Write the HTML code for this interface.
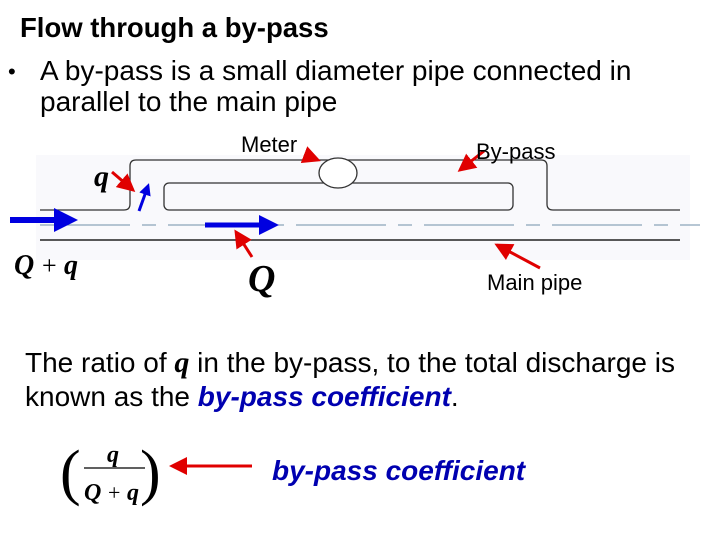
<!DOCTYPE html>
<html><head><meta charset="utf-8"><style>
html,body{margin:0;padding:0;background:#fff;}
svg{display:block;font-family:"Liberation Sans",Arial,sans-serif;}
</style></head><body>
<svg width="720" height="540" viewBox="0 0 720 540" xmlns="http://www.w3.org/2000/svg">
<defs>
<marker id="r" markerWidth="6" markerHeight="6" refX="5" refY="3" orient="auto" markerUnits="strokeWidth"><path d="M0,0 L6,3 L0,6 z" fill="#e00000"/></marker>
<marker id="b" markerWidth="4" markerHeight="4" refX="3" refY="2" orient="auto" markerUnits="strokeWidth"><path d="M0,0 L4,2 L0,4 z" fill="#0000e0"/></marker>
</defs>
<text x="20" y="37" font-size="27.5" font-weight="bold">Flow through a by-pass</text>
<text x="8" y="79" font-size="22">•</text>
<text x="40" y="80" font-size="28">A by-pass is a small diameter pipe connected in</text>
<text x="40" y="111" font-size="28">parallel to the main pipe</text>

<rect x="36" y="155" width="654" height="105" fill="#f9f9fc"/>
<path d="M40,210 H124 Q130,210 130,204 V166 Q130,160 136,160 H541 Q547,160 547,166 V204 Q547,210 553,210 H680" fill="none" stroke="#333" stroke-width="1.3"/>
<line x1="40" y1="240" x2="680" y2="240" stroke="#222" stroke-width="1.5"/>
<line x1="40" y1="225" x2="700" y2="225" stroke="#6f8fa8" stroke-width="1.1" stroke-dasharray="90,12,14,12"/>
<rect x="164" y="183" width="349" height="27" rx="5" fill="none" stroke="#333" stroke-width="1.3"/>
<ellipse cx="338" cy="173" rx="19" ry="15" fill="#fff" stroke="#333" stroke-width="1.3"/>
<line x1="10" y1="220" x2="72" y2="220" stroke="#0000e0" stroke-width="6" marker-end="url(#b)"/>
<line x1="205" y1="225" x2="274" y2="225" stroke="#0000e0" stroke-width="5" marker-end="url(#b)"/>
<line x1="139" y1="211" x2="148" y2="186" stroke="#0000e0" stroke-width="3" marker-end="url(#b)"/>
<line x1="112" y1="172" x2="133" y2="190" stroke="#e00000" stroke-width="3" marker-end="url(#r)"/>
<line x1="305" y1="155" x2="318" y2="160" stroke="#e00000" stroke-width="3" marker-end="url(#r)"/>
<line x1="484" y1="151" x2="460" y2="170" stroke="#e00000" stroke-width="3" marker-end="url(#r)"/>
<line x1="252" y1="257" x2="236" y2="232" stroke="#e00000" stroke-width="3" marker-end="url(#r)"/>
<line x1="540" y1="268" x2="497" y2="245" stroke="#e00000" stroke-width="3" marker-end="url(#r)"/>
<text x="241" y="152" font-size="22">Meter</text>
<text x="476" y="159" font-size="22">By-pass</text>
<text x="487" y="290" font-size="22">Main pipe</text>
<text x="94" y="186" font-size="30" font-weight="bold" font-style="italic" font-family="Liberation Serif,serif">q</text>
<text x="14" y="274" font-size="28" font-weight="bold" font-style="italic" font-family="Liberation Serif,serif">Q</text>
<text x="42" y="274" font-size="26" font-family="Liberation Serif,serif">+</text>
<text x="64" y="274" font-size="28" font-weight="bold" font-style="italic" font-family="Liberation Serif,serif">q</text>
<text x="248" y="291" font-size="38" font-weight="bold" font-style="italic" font-family="Liberation Serif,serif">Q</text>

<text x="25" y="372" font-size="28">The ratio of <tspan font-family="Liberation Serif,serif" font-weight="bold" font-style="italic" font-size="30">q</tspan> in the by-pass, to the total discharge is</text>
<text x="25" y="406" font-size="28">known as the <tspan fill="#0000b0" font-weight="bold" font-style="italic">by-pass coefficient</tspan>.</text>

<text x="60" y="493" font-size="62" font-family="Liberation Serif,serif">(</text>
<text x="140" y="493" font-size="62" font-family="Liberation Serif,serif">)</text>
<text x="107" y="462" font-size="24" font-weight="bold" font-style="italic" font-family="Liberation Serif,serif">q</text>
<line x1="84" y1="468" x2="145" y2="468" stroke="#000" stroke-width="1.3"/>
<text x="84" y="500" font-size="24" font-weight="bold" font-style="italic" font-family="Liberation Serif,serif">Q</text>
<text x="108" y="500" font-size="22" font-family="Liberation Serif,serif">+</text>
<text x="127" y="500" font-size="24" font-weight="bold" font-style="italic" font-family="Liberation Serif,serif">q</text>
<line x1="252" y1="466" x2="172" y2="466" stroke="#e00000" stroke-width="3" marker-end="url(#r)"/>
<text x="272" y="480" font-size="28" fill="#0000b0" font-weight="bold" font-style="italic">by-pass coefficient</text>
</svg>
</body></html>
